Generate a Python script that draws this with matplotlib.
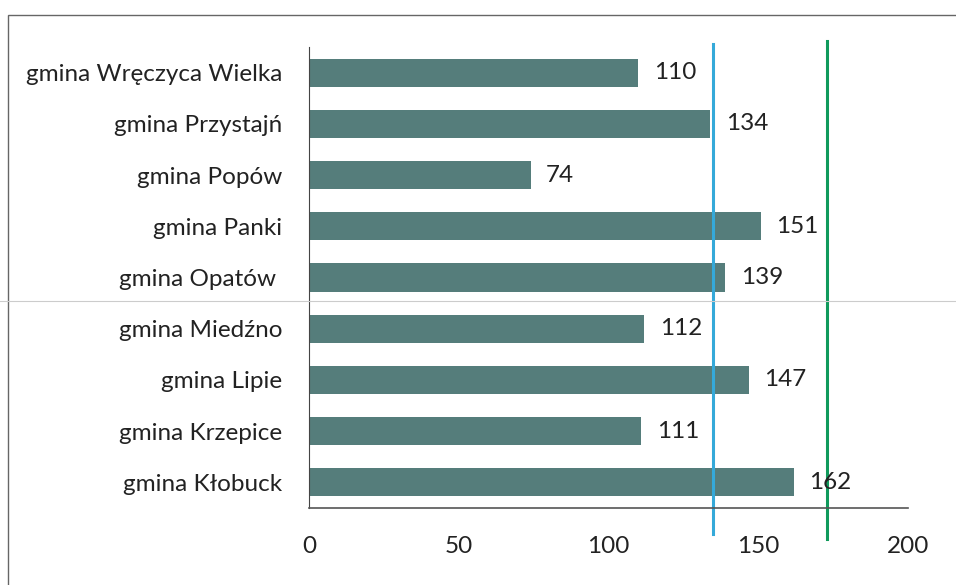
import matplotlib.pyplot as plt
from matplotlib.patches import Rectangle
from matplotlib.lines import Line2D

categories = ["gmina Kłobuck", "gmina Krzepice", "gmina Lipie", "gmina Miedźno",
              "gmina Opatów ", "gmina Panki", "gmina Popów", "gmina Przystajń",
              "gmina Wręczyca Wielka"]
values = [162, 111, 147, 112, 139, 151, 74, 134, 110]
line_blue = 135
line_green = 173
xticks = [0, 50, 100, 150, 200]

plt.rcParams['font.family'] = ['Lato', 'DejaVu Sans']

fig = plt.figure(figsize=(9.56, 5.85), dpi=100)
W, H = 956, 585
ax = fig.add_axes([309 / W, 1 - 508 / H, 599 / W, (508 - 47) / H])

bars = ax.barh(categories, values, height=0.55, color="#557d7b")
ax.bar_label(bars, padding=11, fontsize=17.5, color="#222222")

ax.set_xlim(0, 200)
ax.set_ylim(-0.5, len(categories) - 0.5)
ax.set_xticks(xticks)
ax.tick_params(axis="both", length=0, labelsize=17.5, colors="#222222")
ax.tick_params(axis="x", pad=20)
ax.tick_params(axis="y", pad=19)
for s in ["top", "right"]:
    ax.spines[s].set_visible(False)
ax.spines["left"].set_color("#444444")
ax.spines["bottom"].set_color("#555555")
ax.spines["left"].set_linewidth(0.8)
ax.spines["bottom"].set_linewidth(1.2)

# reference lines, running past the axis like in the scan
ax.plot([line_blue, line_blue], [-1.0, 8.55], color="#35a9d9", lw=2.2, clip_on=False)
ax.plot([line_green, line_green], [-1.1, 8.62], color="#109a5c", lw=2.2, clip_on=False)

# frame of the scanned chart area
fig.add_artist(Rectangle((8 / W, -0.1), 1.1, 1 - 15 / H + 0.1, transform=fig.transFigure,
                         fill=False, edgecolor="#666666", lw=1.0))
fig.add_artist(Line2D([0, 1], [1 - 301 / H, 1 - 301 / H], transform=fig.transFigure,
                      color="#cccccc", lw=0.8))

fig.savefig("out.png", dpi=100)
